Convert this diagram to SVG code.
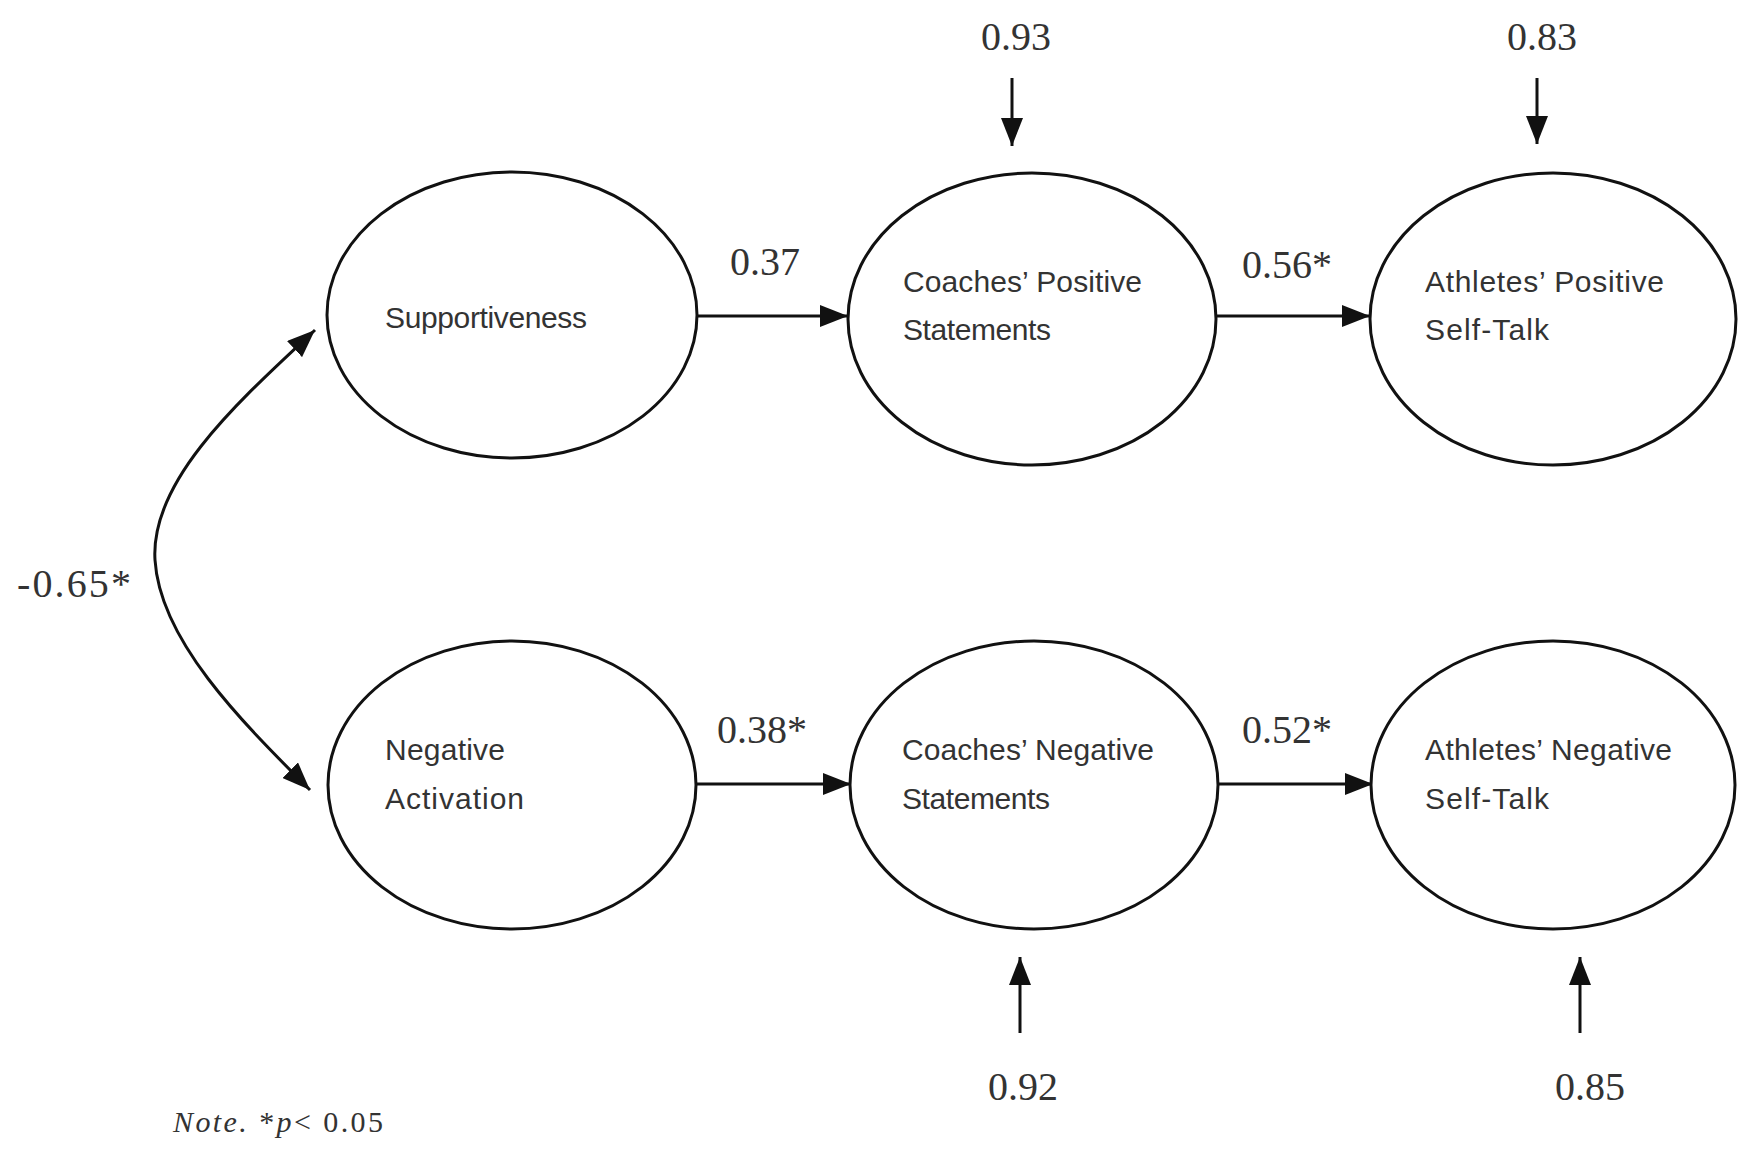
<svg xmlns="http://www.w3.org/2000/svg" width="1740" height="1149" viewBox="0 0 1740 1149">
<style>
.node ellipse{fill:#fff;stroke:#111;stroke-width:3}
.lbl{font-family:"Liberation Sans",Arial,sans-serif;font-size:30px;fill:#333}
.num{font-family:"Liberation Serif","Times New Roman",serif;font-size:40px;fill:#333}
.conn{fill:none;stroke:#111;stroke-width:3}
.note{font-family:"Liberation Serif","Times New Roman",serif;font-size:30px;fill:#333}
</style>
<defs>
<marker id="ah" viewBox="0 0 28 22" refX="28" refY="11" markerWidth="28" markerHeight="22" markerUnits="userSpaceOnUse" orient="auto-start-reverse">
<path d="M0,0 L28,11 L0,22 z" fill="#111"/>
</marker>
</defs>
<rect width="1740" height="1149" fill="#fff"/>
<g id="connectors">
<line class="conn" x1="697" y1="316" x2="848" y2="316" marker-end="url(#ah)"/>
<line class="conn" x1="1217" y1="316" x2="1370" y2="316" marker-end="url(#ah)"/>
<line class="conn" x1="696" y1="784" x2="851" y2="784" marker-end="url(#ah)"/>
<line class="conn" x1="1218" y1="784" x2="1373" y2="784" marker-end="url(#ah)"/>
<line class="conn" x1="1012" y1="78" x2="1012" y2="146" marker-end="url(#ah)"/>
<line class="conn" x1="1537" y1="78" x2="1537" y2="144" marker-end="url(#ah)"/>
<line class="conn" x1="1020" y1="1033" x2="1020" y2="957" marker-end="url(#ah)"/>
<line class="conn" x1="1580" y1="1033" x2="1580" y2="957" marker-end="url(#ah)"/>
<path class="conn" d="M315,330 C240,400 150,480 155,560 C160,640 240,720 310,790" marker-start="url(#ah)" marker-end="url(#ah)"/>
<text class="num" x="765" y="275" text-anchor="middle">0.37</text>
<text class="num" x="1287" y="278" text-anchor="middle">0.56*</text>
<text class="num" x="762" y="743" text-anchor="middle">0.38*</text>
<text class="num" x="1287" y="743" text-anchor="middle">0.52*</text>
<text class="num" x="1016" y="50" text-anchor="middle">0.93</text>
<text class="num" x="1542" y="50" text-anchor="middle">0.83</text>
<text class="num" x="1023" y="1100" text-anchor="middle">0.92</text>
<text class="num" x="1590" y="1100" text-anchor="middle">0.85</text>
<text class="num" x="17" y="597" textLength="114">-0.65*</text>
</g>
<g id="supportiveness" class="node">
<ellipse cx="512" cy="315" rx="185" ry="143"/>
<text class="lbl" x="385" y="328" textLength="202">Supportiveness</text>
</g>
<g id="coaches-positive" class="node">
<ellipse cx="1032" cy="319" rx="184" ry="146"/>
<text class="lbl" x="903" y="292" textLength="239">Coaches’ Positive</text>
<text class="lbl" x="903" y="340" textLength="148">Statements</text>
</g>
<g id="athletes-positive" class="node">
<ellipse cx="1553" cy="319" rx="183" ry="146"/>
<text class="lbl" x="1425" y="292" textLength="239">Athletes’ Positive</text>
<text class="lbl" x="1425" y="340" textLength="124">Self-Talk</text>
</g>
<g id="negative-activation" class="node">
<ellipse cx="512" cy="785" rx="184" ry="144"/>
<text class="lbl" x="385" y="760" textLength="120">Negative</text>
<text class="lbl" x="385" y="809" textLength="139">Activation</text>
</g>
<g id="coaches-negative" class="node">
<ellipse cx="1034" cy="785" rx="184" ry="144"/>
<text class="lbl" x="902" y="760" textLength="252">Coaches’ Negative</text>
<text class="lbl" x="902" y="809" textLength="148">Statements</text>
</g>
<g id="athletes-negative" class="node">
<ellipse cx="1553" cy="785" rx="182" ry="144"/>
<text class="lbl" x="1425" y="760" textLength="247">Athletes’ Negative</text>
<text class="lbl" x="1425" y="809" textLength="124">Self-Talk</text>
</g>
<text class="note" x="173" y="1132" textLength="210"><tspan font-style="italic">Note.</tspan> *<tspan font-style="italic">p</tspan>&lt; 0.05</text>
</svg>
